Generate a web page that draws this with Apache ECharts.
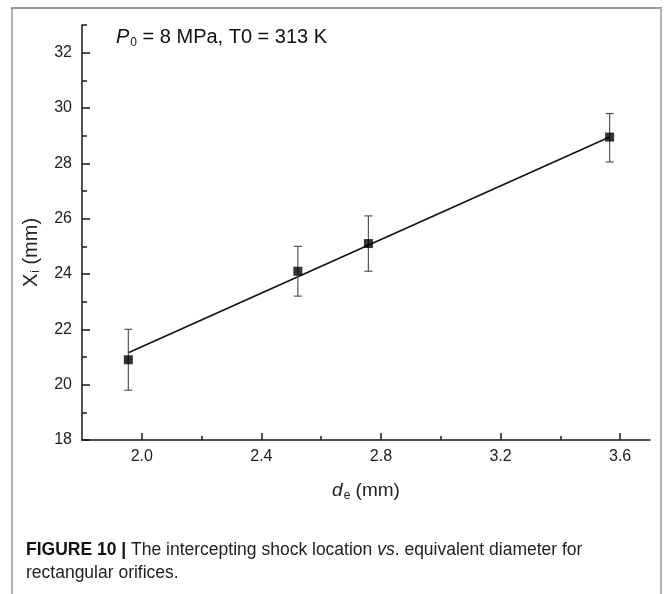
<!DOCTYPE html>
<html>
<head>
<meta charset="utf-8">
<script src="https://cdn.jsdelivr.net/npm/echarts@6/dist/echarts.min.js"></script>
<style>
html,body{margin:0;padding:0;background:#fff;}
#chart{width:665px;height:594px;}
</style>
</head>
<body>
<div id="chart"></div>
<script>
// ---- data ----
const deValues = [1.955, 2.522, 2.758, 3.565];   // d_e (mm)
const xiValues = [20.9, 24.1, 25.1, 28.95];      // X_i (mm)
const errLow   = [19.8, 23.2, 24.1, 28.05];
const errHigh  = [22.0, 25.0, 26.1, 29.8];
const fitDe    = [1.955, 3.565];                  // linear fit end points
const fitXi    = [21.15, 28.95];
const xMajorTicks = [2.0, 2.4, 2.8, 3.2, 3.6];
const xMinorTicks = [2.2, 2.6, 3.0, 3.4];
const yMajorTicks = [18, 20, 22, 24, 26, 28, 30, 32];
const yMinorTicks = [19, 21, 23, 25, 27, 29, 31, 33];

const pointData = deValues.map((x, i) => [x, xiValues[i]]);
const errData = deValues.map((x, i) => [x, errLow[i], errHigh[i]]);
const fitData = fitDe.map((x, i) => [x, fitXi[i]]);

const FONT = 'Arial, "Liberation Sans", Helvetica, sans-serif';
const CAPFONT = '"Liberation Sans Narrow", "Arial Narrow", ' + FONT;
const axisCol = '#1a1a1a';

const chart = echarts.init(document.getElementById('chart'), null, {renderer: 'canvas'});

const option = {
  backgroundColor: '#fff',
  animation: false,
  grid: {left: 82, right: 15, top: 25, bottom: 154, containLabel: false},
  xAxis: [{
    type: 'value', min: 1.8, max: 3.7,
    splitLine: {show: false},
    axisLine: {show: true, onZero: false, lineStyle: {color: axisCol, width: 1.5}},
    axisTick: {show: true, inside: true, length: 7, customValues: xMajorTicks, lineStyle: {color: axisCol, width: 1.5}},
    axisLabel: {customValues: xMajorTicks, margin: 9, color: '#222', fontSize: 16, fontFamily: FONT,
      formatter: v => v.toFixed(1)},
    name: '{d|d}{s|e}{n| (mm)}',
    nameLocation: 'middle', nameGap: 40,
    nameTextStyle: {
      fontFamily: FONT, color: '#222',
      rich: {
        d: {fontSize: 19, fontStyle: 'italic', fontFamily: FONT, color: '#222'},
        s: {fontSize: 12, fontFamily: FONT, color: '#222', padding: [10, 0, 0, 1]},
        n: {fontSize: 19, fontFamily: FONT, color: '#222'}
      }
    }
  }, {
    type: 'value', min: 1.8, max: 3.7, position: 'bottom', offset: 0,
    splitLine: {show: false},
    axisLine: {show: false},
    axisTick: {show: true, inside: true, length: 4, customValues: xMinorTicks, lineStyle: {color: axisCol, width: 1.5}},
    axisLabel: {show: false}
  }],
  yAxis: [{
    type: 'value', min: 18, max: 33,
    splitLine: {show: false},
    axisLine: {show: true, onZero: false, lineStyle: {color: axisCol, width: 1.5}},
    axisTick: {show: true, inside: true, length: 8, customValues: yMajorTicks, lineStyle: {color: axisCol, width: 1.5}},
    axisLabel: {customValues: yMajorTicks, margin: 10, color: '#222', fontSize: 16, fontFamily: FONT},
    name: '{x|X}{s|i}{n| (mm)}',
    nameLocation: 'middle', nameGap: 40,
    nameTextStyle: {
      fontFamily: FONT, color: '#222',
      padding: [0, 40, 0, 0],
      rich: {
        x: {fontSize: 20, fontFamily: FONT, color: '#222'},
        s: {fontSize: 12, fontFamily: FONT, color: '#222', padding: [10, 0, 0, 1]},
        n: {fontSize: 20, fontFamily: FONT, color: '#222'}
      }
    }
  }, {
    type: 'value', min: 18, max: 33, position: 'left', offset: 0,
    splitLine: {show: false},
    axisLine: {show: false},
    axisTick: {show: true, inside: true, length: 5, customValues: yMinorTicks, lineStyle: {color: axisCol, width: 1.5}},
    axisLabel: {show: false}
  }],
  series: [{
    type: 'line', data: fitData, xAxisIndex: 0, yAxisIndex: 0,
    showSymbol: false, symbol: 'none',
    lineStyle: {color: '#111', width: 1.6}, z: 2
  }, {
    type: 'custom', data: errData, xAxisIndex: 0, yAxisIndex: 0, z: 3,
    renderItem: function (params, api) {
      const x = api.value(0);
      const lo = api.coord([x, api.value(1)]);
      const hi = api.coord([x, api.value(2)]);
      const w = 4;
      const st = {stroke: '#555', lineWidth: 1.2};
      return {
        type: 'group',
        children: [
          {type: 'line', shape: {x1: lo[0], y1: lo[1], x2: hi[0], y2: hi[1]}, style: st},
          {type: 'line', shape: {x1: lo[0] - w, y1: lo[1], x2: lo[0] + w, y2: lo[1]}, style: st},
          {type: 'line', shape: {x1: hi[0] - w, y1: hi[1], x2: hi[0] + w, y2: hi[1]}, style: st}
        ]
      };
    }
  }, {
    type: 'scatter', data: pointData, xAxisIndex: 0, yAxisIndex: 0, z: 4,
    symbol: 'rect', symbolSize: 9,
    itemStyle: {color: '#000'}
  }],
  graphic: [
    // figure frame
    {type: 'line', shape: {x1: 12, y1: 8, x2: 12, y2: 594}, style: {stroke: '#b0b0b0', lineWidth: 2}},
    {type: 'line', shape: {x1: 11, y1: 8, x2: 662, y2: 8}, style: {stroke: '#7a7a7a', lineWidth: 1.5}},
    {type: 'line', shape: {x1: 661, y1: 8, x2: 661, y2: 594}, style: {stroke: '#b0b0b0', lineWidth: 2}},
    // annotation
    {type: 'text', left: 116, top: 27, style: {
      text: '{p|P}{s|0}{n| = 8 MPa, T0 = 313 K}',
      rich: {
        p: {fontSize: 20, fontStyle: 'italic', fontFamily: FONT, fill: '#111'},
        s: {fontSize: 12, fontFamily: FONT, fill: '#111', padding: [11, 0, 0, 1]},
        n: {fontSize: 20, fontFamily: FONT, fill: '#111'}
      }
    }},
    // caption
    {type: 'text', left: 26, top: 541, style: {
      text: '{b|FIGURE 10 | }{n|The intercepting shock location }{i|vs}{n|. equivalent diameter for}',
      rich: {
        b: {fontSize: 17.5, fontWeight: 'bold', fontFamily: CAPFONT, fill: '#111'},
        n: {fontSize: 17.5, fontFamily: CAPFONT, fill: '#222'},
        i: {fontSize: 17.5, fontStyle: 'italic', fontFamily: CAPFONT, fill: '#222'}
      }
    }},
    {type: 'text', left: 26, top: 564, style: {
      text: 'rectangular orifices.',
      font: '17.5px "Liberation Sans Narrow", "Arial Narrow", Arial, sans-serif', fill: '#222'
    }}
  ]
};
chart.setOption(option);
</script>
</body>
</html>
